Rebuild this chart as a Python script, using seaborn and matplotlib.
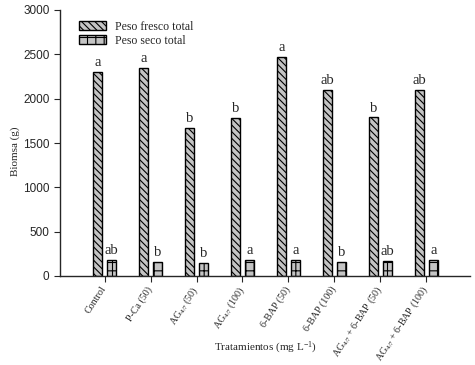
import matplotlib
matplotlib.use("Agg")
import matplotlib.pyplot as plt
import pandas as pd
import seaborn as sns

# Treatment labels (x axis)
tratamientos = ['Control', 'P-Ca (50)', r'AG$_{\mathrm{4/7}}$ (50)', r'AG$_{\mathrm{4/7}}$ (100)',
                '6-BAP (50)', '6-BAP (100)', r'AG$_{\mathrm{4/7}}$ + 6-BAP (50)',
                r'AG$_{\mathrm{4/7}}$ + 6-BAP (100)']
series = ['Peso fresco total', 'Peso seco total']

fresco = [2300, 2350, 1670, 1780, 2470, 2100, 1790, 2100]
seco = [180, 155, 150, 180, 185, 155, 170, 185]

letras_fresco = ['a', 'a', 'b', 'b', 'a', 'ab', 'b', 'ab']
letras_seco = ['ab', 'b', 'b', 'a', 'a', 'b', 'ab', 'a']

df = pd.DataFrame({
    'Tratamiento': tratamientos * 2,
    'Serie': [series[0]] * len(fresco) + [series[1]] * len(seco),
    'Biomasa': fresco + seco,
})

sns.set_style('ticks')
plt.rcParams['font.family'] = ['Liberation Serif', 'DejaVu Serif']
plt.rcParams['mathtext.fontset'] = 'custom'
plt.rcParams['mathtext.rm'] = 'Liberation Serif'
plt.rcParams['mathtext.it'] = 'Liberation Serif:italic'
plt.rcParams['hatch.linewidth'] = 0.8

fig = plt.figure(figsize=(4.75, 3.65), dpi=100)
ax = fig.add_axes([60 / 475, 89 / 365, 410 / 475, 266 / 365])

sns.barplot(data=df, x='Tratamiento', y='Biomasa', hue='Serie',
            order=tratamientos, hue_order=series, width=0.6, gap=0.33,
            palette=['#c4c4c4', '#c4c4c4'], edgecolor='black', linewidth=1.0,
            errorbar=None, ax=ax, legend=True)

hatches = ['\\\\\\\\\\', '++']
for cont, h in zip(ax.containers, hatches):
    for bar in cont:
        bar.set_hatch(h)

for cont, letras in zip(ax.containers, [letras_fresco, letras_seco]):
    ax.bar_label(cont, labels=letras, padding=2, fontsize=10.5)

ax.set_xlim(-0.97, 7.95)
ax.set_ylim(0, 3000)
ax.set_yticks([0, 500, 1000, 1500, 2000, 2500, 3000])
ax.set_yticklabels([str(v) for v in [0, 500, 1000, 1500, 2000, 2500, 3000]],
                   family='Liberation Sans', fontsize=8.5)
ax.set_xticks(range(len(tratamientos)))
ax.set_xticklabels(tratamientos, rotation=57, ha='right', va='center',
                   rotation_mode='anchor', fontsize=7.2)
ax.tick_params(axis='both', direction='out', length=4, width=0.8)
ax.tick_params(axis='x', pad=4)
ax.set_ylabel('Biomsa (g)', fontsize=8)
ax.yaxis.set_label_coords(-0.098, 0.47)
ax.set_xlabel(r'Tratamientos (mg L$^{-1}$)', fontsize=8)
ax.xaxis.set_label_coords(0.5, -0.24)
for s in ['left', 'bottom']:
    ax.spines[s].set_linewidth(1.0)
sns.despine(ax=ax)

leg = ax.legend(loc='upper left', bbox_to_anchor=(0.02, 1.0), frameon=False,
                fontsize=8.5, handlelength=2.3, handleheight=0.8,
                labelspacing=0.2, handletextpad=0.8)
for patch, h in zip(leg.get_patches(), hatches):
    patch.set_hatch(h)

fig.savefig('out.png', dpi=100)
